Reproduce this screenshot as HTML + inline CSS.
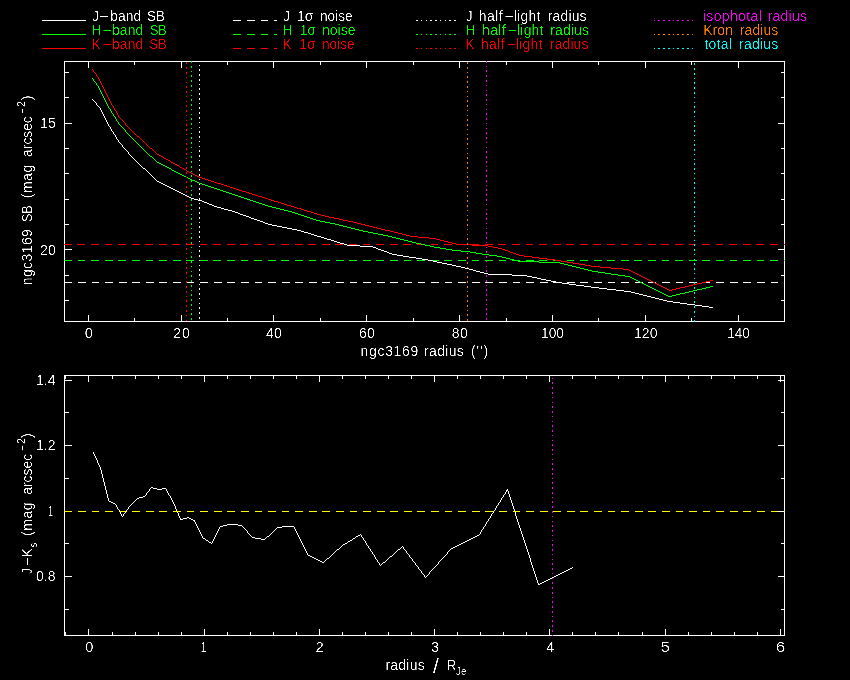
<!DOCTYPE html>
<html lang="en">
<head>
<meta charset="utf-8">
<title>ngc3169 surface brightness profile</title>
<style>
html,body{margin:0;padding:0;background:#000;}
body{width:850px;height:680px;overflow:hidden;}
svg{display:block;font-family:'Liberation Sans', sans-serif;font-size:14px;}
</style>
</head>
<body>
<svg width="850" height="680" viewBox="0 0 850 680">
<rect x="0" y="0" width="850" height="680" fill="#000"/>
<g shape-rendering="crispEdges" stroke-width="1" fill="none">
<path d="M42 20.5h44" stroke="#fff"/>
<path d="M233 20.5h8M247 20.5h8M261 20.5h7M274 20.5h3" stroke="#fff"/>
<path d="M416 20.5h2M421 20.5h1M426 20.5h1M430 20.5h2M435 20.5h2M440 20.5h1M445 20.5h1M449 20.5h2M454 20.5h2" stroke="#fff"/>
<path d="M42 34.5h44" stroke="#0f0"/>
<path d="M233 34.5h8M247 34.5h8M261 34.5h7M274 34.5h3" stroke="#0f0"/>
<path d="M416 34.5h2M421 34.5h1M426 34.5h1M430 34.5h2M435 34.5h2M440 34.5h1M445 34.5h1M449 34.5h2M454 34.5h2" stroke="#0f0"/>
<path d="M42 48.5h44" stroke="#f00"/>
<path d="M233 48.5h8M247 48.5h8M261 48.5h7M274 48.5h3" stroke="#f00"/>
<path d="M416 48.5h2M421 48.5h1M426 48.5h1M430 48.5h2M435 48.5h2M440 48.5h1M445 48.5h1M449 48.5h2M454 48.5h2" stroke="#f00"/>
<path d="M654 20.5h1M658 20.5h2M663 20.5h2M668 20.5h2M673 20.5h1M677 20.5h2M682 20.5h2M687 20.5h2M692 20.5h1" stroke="#f0f"/>
<path d="M654 34.5h1M658 34.5h2M663 34.5h2M668 34.5h2M673 34.5h1M677 34.5h2M682 34.5h2M687 34.5h2M692 34.5h1" stroke="#ff8000"/>
<path d="M654 48.5h1M658 48.5h2M663 48.5h2M668 48.5h2M673 48.5h1M677 48.5h2M682 48.5h2M687 48.5h2M692 48.5h1" stroke="#0ff"/>
<path d="M64.5 61.5h720v260h-720z" stroke="#fff"/>
<path d="M88.5 61v7M88.5 315v7M134.5 61v4M134.5 318v4M181.5 61v7M181.5 315v7M227.5 61v4M227.5 318v4M273.5 61v7M273.5 315v7M320.5 61v4M320.5 318v4M366.5 61v7M366.5 315v7M413.5 61v4M413.5 318v4M459.5 61v7M459.5 315v7M506.5 61v4M506.5 318v4M552.5 61v7M552.5 315v7M598.5 61v4M598.5 318v4M645.5 61v7M645.5 315v7M691.5 61v4M691.5 318v4M738.5 61v7M738.5 315v7M64 72.5h5M781 72.5h4M64 97.5h5M781 97.5h4M64 123.5h8M778 123.5h7M64 148.5h5M781 148.5h4M64 173.5h5M781 173.5h4M64 199.5h5M781 199.5h4M64 224.5h5M781 224.5h4M64 249.5h8M778 249.5h7M64 275.5h5M781 275.5h4M64 300.5h5M781 300.5h4" stroke="#fff"/>
<path d="M64 282.5h8M78 282.5h8M92 282.5h7M105 282.5h8M119 282.5h8M132 282.5h8M146 282.5h8M159 282.5h8M173 282.5h8M187 282.5h7M200 282.5h8M214 282.5h8M227 282.5h8M241 282.5h8M255 282.5h7M268 282.5h8M282 282.5h8M295 282.5h8M309 282.5h8M322 282.5h8M336 282.5h8M350 282.5h7M363 282.5h8M377 282.5h8M390 282.5h8M404 282.5h8M418 282.5h7M431 282.5h8M445 282.5h7M458 282.5h8M472 282.5h8M485 282.5h8M499 282.5h8M513 282.5h7M526 282.5h8M540 282.5h8M553 282.5h8M567 282.5h8M580 282.5h8M594 282.5h8M608 282.5h7M621 282.5h8M635 282.5h8M648 282.5h8M662 282.5h8M676 282.5h7M689 282.5h8M703 282.5h7M716 282.5h8M730 282.5h8M743 282.5h8M757 282.5h8M771 282.5h7M784 282.5h1" stroke="#fff"/>
<path d="M64 260.5h8M78 260.5h7M91 260.5h8M105 260.5h8M118 260.5h8M132 260.5h8M146 260.5h7M159 260.5h8M173 260.5h8M186 260.5h8M200 260.5h8M213 260.5h8M227 260.5h8M241 260.5h7M254 260.5h8M268 260.5h8M281 260.5h8M295 260.5h8M309 260.5h7M322 260.5h8M336 260.5h8M349 260.5h8M363 260.5h8M376 260.5h8M390 260.5h8M404 260.5h7M417 260.5h8M431 260.5h8M444 260.5h8M458 260.5h8M472 260.5h7M485 260.5h8M499 260.5h7M512 260.5h8M526 260.5h8M539 260.5h8M553 260.5h8M567 260.5h7M580 260.5h8M594 260.5h8M607 260.5h8M621 260.5h8M634 260.5h8M648 260.5h8M662 260.5h7M675 260.5h8M689 260.5h8M702 260.5h8M716 260.5h8M730 260.5h7M743 260.5h8M757 260.5h7M770 260.5h8M784 260.5h1" stroke="#0f0"/>
<path d="M64 244.5h8M77 244.5h8M91 244.5h8M105 244.5h7M118 244.5h8M132 244.5h8M145 244.5h8M159 244.5h8M172 244.5h8M186 244.5h8M200 244.5h7M213 244.5h8M227 244.5h8M240 244.5h8M254 244.5h8M268 244.5h7M281 244.5h8M295 244.5h8M308 244.5h8M322 244.5h8M335 244.5h8M349 244.5h8M363 244.5h7M376 244.5h8M390 244.5h8M403 244.5h8M417 244.5h8M431 244.5h7M444 244.5h8M458 244.5h7M471 244.5h8M485 244.5h8M498 244.5h8M512 244.5h8M526 244.5h7M539 244.5h8M553 244.5h8M566 244.5h8M580 244.5h8M593 244.5h8M607 244.5h8M621 244.5h7M634 244.5h8M648 244.5h8M661 244.5h8M675 244.5h8M689 244.5h7M702 244.5h8M716 244.5h7M729 244.5h8M743 244.5h8M756 244.5h8M770 244.5h8M784 244.5h1" stroke="#f00"/>
<path d="M92 99.5h1M93 100.5h1M94 101.5h1M95 102.5h1M96 103.5h1M96 104.5h1M97 105.5h1M98 106.5h1M99 107.5h1M100 108.5h1M100 109.5h1M101 110.5h1M101 111.5h1M102 112.5h1M102 113.5h1M103 114.5h1M103 115.5h1M104 116.5h1M104 117.5h1M105 118.5h1M105 119.5h1M106 120.5h1M106 121.5h1M107 122.5h1M107 123.5h1M108 124.5h1M108 125.5h1M109 126.5h1M110 127.5h1M110 128.5h1M111 129.5h1M111 130.5h1M112 131.5h1M113 132.5h1M113 133.5h1M114 134.5h1M115 135.5h1M115 136.5h1M116 137.5h1M116 138.5h1M117 139.5h1M118 140.5h1M118 141.5h1M119 142.5h1M120 143.5h1M121 144.5h1M122 145.5h1M122 146.5h1M123 147.5h1M124 148.5h1M125 149.5h1M126 150.5h1M127 151.5h1M128 152.5h1M128 153.5h1M129 154.5h1M130 155.5h1M131 156.5h1M132 157.5h1M133 158.5h1M134 159.5h1M135 160.5h1M136 161.5h1M137 162.5h1M138 163.5h1M139 164.5h1M140 165.5h1M141 166.5h1M142 167.5h1M143 168.5h2M145 169.5h1M146 170.5h1M147 171.5h1M148 172.5h1M149 173.5h1M150 174.5h1M151 175.5h1M152 176.5h1M153 177.5h1M154 178.5h1M155 179.5h1M156 180.5h1M157 181.5h2M159 182.5h2M161 183.5h2M163 184.5h2M165 185.5h2M167 186.5h2M169 187.5h2M171 188.5h2M173 189.5h2M175 190.5h2M177 191.5h2M179 192.5h2M181 193.5h2M183 194.5h2M185 195.5h2M187 196.5h2M189 197.5h2M191 198.5h3M194 199.5h4M198 200.5h4M202 201.5h2M204 202.5h3M207 203.5h2M209 204.5h3M212 205.5h2M214 206.5h3M217 207.5h4M221 208.5h3M224 209.5h4M228 210.5h4M232 211.5h3M235 212.5h3M238 213.5h2M240 214.5h3M243 215.5h3M246 216.5h3M249 217.5h2M251 218.5h3M254 219.5h3M257 220.5h3M260 221.5h3M263 222.5h2M265 223.5h3M268 224.5h4M272 225.5h5M277 226.5h5M282 227.5h5M287 228.5h5M292 229.5h5M297 230.5h4M301 231.5h3M304 232.5h4M308 233.5h3M311 234.5h3M314 235.5h3M317 236.5h4M321 237.5h3M324 238.5h3M327 239.5h4M331 240.5h3M334 241.5h3M337 242.5h3M340 243.5h4M344 244.5h3M347 245.5h13M360 246.5h13M373 247.5h3M376 248.5h2M378 249.5h3M381 250.5h3M384 251.5h3M387 252.5h2M389 253.5h3M392 254.5h5M397 255.5h6M403 256.5h6M409 257.5h7M416 258.5h6M422 259.5h6M428 260.5h5M433 261.5h4M437 262.5h5M442 263.5h5M447 264.5h5M452 265.5h4M456 266.5h5M461 267.5h4M465 268.5h4M469 269.5h4M473 270.5h3M476 271.5h4M480 272.5h4M484 273.5h4M488 274.5h24M512 275.5h15M527 276.5h5M532 277.5h5M537 278.5h4M541 279.5h5M546 280.5h5M551 281.5h5M556 282.5h6M562 283.5h7M569 284.5h7M576 285.5h8M584 286.5h7M591 287.5h8M599 288.5h8M607 289.5h9M616 290.5h8M624 291.5h7M631 292.5h4M635 293.5h4M639 294.5h4M643 295.5h4M647 296.5h4M651 297.5h4M655 298.5h4M659 299.5h4M663 300.5h4M667 301.5h6M673 302.5h7M680 303.5h7M687 304.5h8M695 305.5h7M702 306.5h7M709 307.5h4" stroke="#fff"/>
<path d="M92 78.5h1M93 79.5h1M93 80.5h1M94 81.5h1M95 82.5h1M96 83.5h1M96 84.5h1M97 85.5h1M98 86.5h1M98 87.5h1M99 88.5h1M99 89.5h1M100 90.5h1M100 91.5h1M101 92.5h1M101 93.5h1M102 94.5h1M102 95.5h1M103 96.5h1M103 97.5h1M104 98.5h1M104 99.5h1M105 100.5h1M105 101.5h1M106 102.5h1M106 103.5h1M107 104.5h1M107 105.5h1M108 106.5h1M108 107.5h1M109 108.5h1M110 109.5h1M110 110.5h1M111 111.5h1M111 112.5h1M112 113.5h1M113 114.5h1M113 115.5h1M114 116.5h1M115 117.5h1M115 118.5h1M116 119.5h1M116 120.5h1M117 121.5h1M118 122.5h1M118 123.5h1M119 124.5h1M120 125.5h1M121 126.5h1M122 127.5h1M123 128.5h1M124 129.5h1M125 130.5h1M125 131.5h1M126 132.5h1M127 133.5h1M128 134.5h1M129 135.5h1M130 136.5h1M131 137.5h1M132 138.5h1M133 139.5h1M134 140.5h1M135 141.5h1M136 142.5h1M137 143.5h1M138 144.5h1M139 145.5h1M140 146.5h1M141 147.5h1M142 148.5h1M143 149.5h1M144 150.5h1M145 151.5h1M146 152.5h1M147 153.5h1M148 154.5h1M149 155.5h1M150 156.5h2M152 157.5h1M153 158.5h1M154 159.5h1M155 160.5h1M156 161.5h1M157 162.5h2M159 163.5h2M161 164.5h2M163 165.5h2M165 166.5h2M167 167.5h2M169 168.5h2M171 169.5h1M172 170.5h2M174 171.5h2M176 172.5h2M178 173.5h2M180 174.5h2M182 175.5h2M184 176.5h2M186 177.5h2M188 178.5h2M190 179.5h2M192 180.5h3M195 181.5h2M197 182.5h2M199 183.5h3M202 184.5h3M205 185.5h3M208 186.5h3M211 187.5h3M214 188.5h3M217 189.5h3M220 190.5h3M223 191.5h3M226 192.5h3M229 193.5h3M232 194.5h3M235 195.5h3M238 196.5h3M241 197.5h3M244 198.5h3M247 199.5h3M250 200.5h3M253 201.5h3M256 202.5h3M259 203.5h3M262 204.5h3M265 205.5h3M268 206.5h4M272 207.5h4M276 208.5h4M280 209.5h4M284 210.5h4M288 211.5h4M292 212.5h3M295 213.5h3M298 214.5h3M301 215.5h3M304 216.5h3M307 217.5h3M310 218.5h3M313 219.5h3M316 220.5h4M320 221.5h5M325 222.5h5M330 223.5h5M335 224.5h4M339 225.5h4M343 226.5h4M347 227.5h4M351 228.5h4M355 229.5h4M359 230.5h4M363 231.5h5M368 232.5h5M373 233.5h5M378 234.5h5M383 235.5h5M388 236.5h4M392 237.5h4M396 238.5h4M400 239.5h4M404 240.5h4M408 241.5h4M412 242.5h4M416 243.5h5M421 244.5h4M425 245.5h5M430 246.5h4M434 247.5h6M440 248.5h6M446 249.5h6M452 250.5h9M461 251.5h9M470 252.5h6M476 253.5h6M482 254.5h7M489 255.5h8M497 256.5h5M502 257.5h4M506 258.5h4M510 259.5h4M514 260.5h4M518 261.5h21M539 262.5h21M560 263.5h4M564 264.5h4M568 265.5h4M572 266.5h4M576 267.5h4M580 268.5h4M584 269.5h4M588 270.5h4M592 271.5h6M598 272.5h7M605 273.5h6M611 274.5h7M618 275.5h7M625 276.5h5M630 277.5h2M632 278.5h2M634 279.5h2M636 280.5h2M638 281.5h2M640 282.5h2M642 283.5h2M644 284.5h2M646 285.5h2M648 286.5h2M710 286.5h3M650 287.5h2M706 287.5h4M652 288.5h2M702 288.5h4M654 289.5h2M697 289.5h5M656 290.5h2M693 290.5h4M658 291.5h2M689 291.5h4M660 292.5h2M685 292.5h4M662 293.5h2M680 293.5h5M664 294.5h2M676 294.5h4M666 295.5h2M672 295.5h4M668 296.5h4" stroke="#0f0"/>
<path d="M92 69.5h1M93 70.5h1M93 71.5h1M94 72.5h1M95 73.5h1M96 74.5h1M96 75.5h1M97 76.5h1M98 77.5h1M98 78.5h1M99 79.5h1M99 80.5h1M100 81.5h1M100 82.5h1M101 83.5h1M101 84.5h1M102 85.5h1M102 86.5h1M103 87.5h1M103 88.5h1M104 89.5h1M104 90.5h1M105 91.5h1M105 92.5h1M106 93.5h1M106 94.5h1M107 95.5h1M107 96.5h1M108 97.5h1M108 98.5h1M109 99.5h1M109 100.5h1M110 101.5h1M110 102.5h1M111 103.5h1M111 104.5h1M112 105.5h1M113 106.5h1M113 107.5h1M114 108.5h1M114 109.5h1M115 110.5h1M116 111.5h1M116 112.5h1M117 113.5h1M117 114.5h1M118 115.5h1M118 116.5h1M119 117.5h1M120 118.5h1M121 119.5h1M122 120.5h1M123 121.5h1M124 122.5h1M125 123.5h1M125 124.5h1M126 125.5h1M127 126.5h1M128 127.5h1M129 128.5h1M130 129.5h1M131 130.5h1M132 131.5h1M133 132.5h1M134 133.5h1M135 134.5h1M136 135.5h1M137 136.5h2M139 137.5h1M140 138.5h1M141 139.5h1M142 140.5h1M143 141.5h1M144 142.5h1M145 143.5h1M146 144.5h1M147 145.5h1M148 146.5h1M149 147.5h1M150 148.5h2M152 149.5h1M153 150.5h1M154 151.5h1M155 152.5h1M156 153.5h1M157 154.5h2M159 155.5h2M161 156.5h2M163 157.5h1M164 158.5h2M166 159.5h2M168 160.5h2M170 161.5h1M171 162.5h2M173 163.5h2M175 164.5h2M177 165.5h2M179 166.5h1M180 167.5h2M182 168.5h2M184 169.5h2M186 170.5h1M187 171.5h2M189 172.5h2M191 173.5h2M193 174.5h2M195 175.5h2M197 176.5h2M199 177.5h3M202 178.5h3M205 179.5h3M208 180.5h3M211 181.5h3M214 182.5h3M217 183.5h4M221 184.5h3M224 185.5h3M227 186.5h3M230 187.5h3M233 188.5h3M236 189.5h3M239 190.5h3M242 191.5h4M246 192.5h3M249 193.5h3M252 194.5h3M255 195.5h3M258 196.5h4M262 197.5h3M265 198.5h3M268 199.5h3M271 200.5h3M274 201.5h4M278 202.5h3M281 203.5h3M284 204.5h3M287 205.5h4M291 206.5h3M294 207.5h3M297 208.5h4M301 209.5h3M304 210.5h3M307 211.5h4M311 212.5h3M314 213.5h3M317 214.5h4M321 215.5h4M325 216.5h4M329 217.5h5M334 218.5h5M339 219.5h4M343 220.5h5M348 221.5h5M353 222.5h4M357 223.5h4M361 224.5h4M365 225.5h4M369 226.5h4M373 227.5h4M377 228.5h4M381 229.5h4M385 230.5h5M390 231.5h4M394 232.5h4M398 233.5h4M402 234.5h4M406 235.5h4M410 236.5h8M418 237.5h11M429 238.5h7M436 239.5h4M440 240.5h4M444 241.5h4M448 242.5h4M452 243.5h4M456 244.5h16M472 245.5h16M488 246.5h5M493 247.5h5M498 248.5h4M502 249.5h3M505 250.5h3M508 251.5h2M510 252.5h3M513 253.5h3M516 254.5h3M519 255.5h5M524 256.5h8M532 257.5h7M539 258.5h8M547 259.5h8M555 260.5h6M561 261.5h6M567 262.5h6M573 263.5h6M579 264.5h6M585 265.5h6M591 266.5h9M600 267.5h11M611 268.5h12M623 269.5h6M629 270.5h2M631 271.5h2M633 272.5h2M635 273.5h2M637 274.5h2M639 275.5h2M641 276.5h2M643 277.5h2M645 278.5h2M647 279.5h2M649 280.5h2M710 280.5h3M651 281.5h2M706 281.5h4M653 282.5h2M702 282.5h4M655 283.5h2M697 283.5h5M657 284.5h2M693 284.5h4M659 285.5h2M689 285.5h4M661 286.5h2M685 286.5h4M663 287.5h2M680 287.5h5M665 288.5h2M676 288.5h4M667 289.5h2M672 289.5h4M669 290.5h3" stroke="#f00"/>
<path d="M199.5 65v1M199.5 69v2M199.5 74v2M199.5 79v2M199.5 84v1M199.5 88v2M199.5 93v2M199.5 98v2M199.5 103v1M199.5 107v2M199.5 112v2M199.5 117v2M199.5 122v1M199.5 127v1M199.5 131v2M199.5 136v2M199.5 141v1M199.5 146v1M199.5 150v2M199.5 155v2M199.5 160v1M199.5 165v1M199.5 169v2M199.5 174v2M199.5 179v1M199.5 184v1M199.5 188v2M199.5 193v2M199.5 198v2M199.5 203v1M199.5 207v2M199.5 212v2M199.5 217v2M199.5 222v1M199.5 226v2M199.5 231v2M199.5 236v2M199.5 241v1M199.5 246v1M199.5 250v2M199.5 255v2M199.5 260v1M199.5 265v1M199.5 269v2M199.5 274v2M199.5 279v1M199.5 284v1M199.5 288v2M199.5 293v2M199.5 298v1M199.5 303v1M199.5 307v2M199.5 312v2M199.5 317v2" stroke="#fff"/>
<path d="M191.5 61v2M191.5 66v2M191.5 71v1M191.5 75v2M191.5 80v2M191.5 85v2M191.5 90v1M191.5 95v1M191.5 99v2M191.5 104v2M191.5 109v1M191.5 114v1M191.5 118v2M191.5 123v2M191.5 128v1M191.5 133v1M191.5 137v2M191.5 142v2M191.5 147v1M191.5 152v1M191.5 156v2M191.5 161v2M191.5 166v2M191.5 171v1M191.5 175v2M191.5 180v2M191.5 185v2M191.5 190v1M191.5 194v2M191.5 199v2M191.5 204v2M191.5 209v1M191.5 214v1M191.5 218v2M191.5 223v2M191.5 228v1M191.5 233v1M191.5 237v2M191.5 242v2M191.5 247v1M191.5 252v1M191.5 256v2M191.5 261v2M191.5 266v1M191.5 271v1M191.5 275v2M191.5 280v2M191.5 285v2M191.5 290v1M191.5 294v2M191.5 299v2M191.5 304v2M191.5 309v1M191.5 313v2M191.5 318v2" stroke="#0f0"/>
<path d="M186.5 62v2M186.5 67v2M186.5 72v2M186.5 77v1M186.5 82v1M186.5 86v2M186.5 91v2M186.5 96v1M186.5 101v1M186.5 105v2M186.5 110v2M186.5 115v1M186.5 120v1M186.5 124v2M186.5 129v2M186.5 134v1M186.5 139v1M186.5 143v2M186.5 148v2M186.5 153v2M186.5 158v1M186.5 162v2M186.5 167v2M186.5 172v2M186.5 177v1M186.5 181v2M186.5 186v2M186.5 191v2M186.5 196v1M186.5 201v1M186.5 205v2M186.5 210v2M186.5 215v1M186.5 220v1M186.5 224v2M186.5 229v2M186.5 234v1M186.5 239v1M186.5 243v2M186.5 248v2M186.5 253v1M186.5 258v1M186.5 262v2M186.5 267v2M186.5 272v2M186.5 277v1M186.5 281v2M186.5 286v2M186.5 291v2M186.5 296v1M186.5 300v2M186.5 305v2M186.5 310v2M186.5 315v1M186.5 320v1" stroke="#f00"/>
<path d="M467.5 62v2M467.5 67v2M467.5 72v1M467.5 76v2M467.5 81v2M467.5 86v2M467.5 91v1M467.5 96v1M467.5 100v2M467.5 105v2M467.5 110v1M467.5 115v1M467.5 119v2M467.5 124v2M467.5 129v1M467.5 134v1M467.5 138v2M467.5 143v2M467.5 148v1M467.5 153v1M467.5 157v2M467.5 162v2M467.5 167v2M467.5 172v1M467.5 176v2M467.5 181v2M467.5 186v2M467.5 191v1M467.5 195v2M467.5 200v2M467.5 205v2M467.5 210v1M467.5 215v1M467.5 219v2M467.5 224v2M467.5 229v1M467.5 234v1M467.5 238v2M467.5 243v2M467.5 248v1M467.5 253v1M467.5 257v2M467.5 262v2M467.5 267v1M467.5 272v1M467.5 276v2M467.5 281v2M467.5 286v2M467.5 291v1M467.5 295v2M467.5 300v2M467.5 305v2M467.5 310v1M467.5 314v2M467.5 319v2" stroke="#ff8000"/>
<path d="M486.5 61v2M486.5 66v1M486.5 70v2M486.5 75v2M486.5 80v2M486.5 85v1M486.5 90v1M486.5 94v2M486.5 99v2M486.5 104v1M486.5 109v1M486.5 113v2M486.5 118v2M486.5 123v1M486.5 128v1M486.5 132v2M486.5 137v2M486.5 142v1M486.5 147v1M486.5 151v2M486.5 156v2M486.5 161v2M486.5 166v1M486.5 170v2M486.5 175v2M486.5 180v2M486.5 185v1M486.5 189v2M486.5 194v2M486.5 199v2M486.5 204v1M486.5 209v1M486.5 213v2M486.5 218v2M486.5 223v1M486.5 228v1M486.5 232v2M486.5 237v2M486.5 242v1M486.5 247v1M486.5 251v2M486.5 256v2M486.5 261v1M486.5 266v1M486.5 270v2M486.5 275v2M486.5 280v2M486.5 285v1M486.5 289v2M486.5 294v2M486.5 299v2M486.5 304v1M486.5 308v2M486.5 313v2M486.5 318v2" stroke="#f0f"/>
<path d="M694.5 63v2M694.5 68v2M694.5 73v2M694.5 78v1M694.5 82v2M694.5 87v2M694.5 92v2M694.5 97v1M694.5 102v1M694.5 106v2M694.5 111v2M694.5 116v1M694.5 121v1M694.5 125v2M694.5 130v2M694.5 135v1M694.5 140v1M694.5 144v2M694.5 149v2M694.5 154v1M694.5 159v1M694.5 163v2M694.5 168v2M694.5 173v1M694.5 178v1M694.5 182v2M694.5 187v2M694.5 192v2M694.5 197v1M694.5 201v2M694.5 206v2M694.5 211v2M694.5 216v1M694.5 221v1M694.5 225v2M694.5 230v2M694.5 235v1M694.5 240v1M694.5 244v2M694.5 249v2M694.5 254v1M694.5 259v1M694.5 263v2M694.5 268v2M694.5 273v1M694.5 278v1M694.5 282v2M694.5 287v2M694.5 292v2M694.5 297v1M694.5 301v2M694.5 306v2M694.5 311v2M694.5 316v1M694.5 320v2" stroke="#0ff"/>
<path d="M64.5 375.5h720v260h-720z" stroke="#fff"/>
<path d="M65.5 375v4M65.5 632v4M88.5 375v7M88.5 629v7M112.5 375v4M112.5 632v4M135.5 375v4M135.5 632v4M158.5 375v4M158.5 632v4M181.5 375v4M181.5 632v4M204.5 375v7M204.5 629v7M227.5 375v4M227.5 632v4M250.5 375v4M250.5 632v4M273.5 375v4M273.5 632v4M296.5 375v4M296.5 632v4M319.5 375v7M319.5 629v7M342.5 375v4M342.5 632v4M365.5 375v4M365.5 632v4M388.5 375v4M388.5 632v4M411.5 375v4M411.5 632v4M434.5 375v7M434.5 629v7M457.5 375v4M457.5 632v4M480.5 375v4M480.5 632v4M503.5 375v4M503.5 632v4M526.5 375v4M526.5 632v4M549.5 375v7M549.5 629v7M572.5 375v4M572.5 632v4M595.5 375v4M595.5 632v4M618.5 375v4M618.5 632v4M642.5 375v4M642.5 632v4M665.5 375v7M665.5 629v7M688.5 375v4M688.5 632v4M711.5 375v4M711.5 632v4M734.5 375v4M734.5 632v4M757.5 375v4M757.5 632v4M780.5 375v7M780.5 629v7M64 609.5h5M781 609.5h4M64 576.5h8M778 576.5h7M64 543.5h5M781 543.5h4M64 511.5h8M778 511.5h7M64 478.5h5M781 478.5h4M64 445.5h8M778 445.5h7M64 412.5h5M781 412.5h4M64 380.5h8M778 380.5h7" stroke="#fff"/>
<path d="M93.5 452v2M94.5 454v2M95.5 456v2M96.5 458v2M97.5 460v3M98.5 463v2M99.5 465v2M100.5 467v3M101.5 470v4M102.5 474v4M103.5 478v4M104.5 482v4M105.5 486v4M106.5 490v4M107.5 494v4M108.5 498v3M109.5 501v1M110.5 501v1M111.5 502v1M112.5 502v1M113.5 503v1M114.5 503v1M115.5 504v1M116.5 505v2M117.5 507v2M118.5 509v1M119.5 510v2M120.5 512v2M121.5 514v2M122.5 516v1M123.5 514v2M124.5 513v1M125.5 512v1M126.5 510v2M127.5 509v1M128.5 507v2M129.5 506v1M130.5 505v1M131.5 504v1M132.5 503v1M133.5 502v1M134.5 501v1M135.5 500v1M136.5 499v1M137.5 498v1M138.5 498v1M139.5 497v1M140.5 497v1M141.5 497v1M142.5 497v1M143.5 496v1M144.5 496v1M145.5 495v1M146.5 493v2M147.5 492v1M148.5 491v1M149.5 489v2M150.5 488v1M151.5 487v1M152.5 487v1M153.5 488v1M154.5 488v1M155.5 488v1M156.5 488v1M157.5 489v1M158.5 489v1M159.5 489v1M160.5 489v1M161.5 489v1M162.5 488v1M163.5 488v1M164.5 488v1M165.5 488v1M166.5 489v2M167.5 491v2M168.5 493v2M169.5 495v1M170.5 496v2M171.5 498v2M172.5 500v2M173.5 502v2M174.5 504v2M175.5 506v3M176.5 509v2M177.5 511v2M178.5 513v3M179.5 516v2M180.5 518v2M181.5 519v1M182.5 519v1M183.5 518v1M184.5 518v1M185.5 518v1M186.5 518v1M187.5 517v1M188.5 517v1M189.5 518v1M190.5 518v1M191.5 519v1M192.5 519v1M193.5 520v1M194.5 520v2M195.5 522v2M196.5 524v2M197.5 526v2M198.5 528v2M199.5 530v2M200.5 532v2M201.5 534v2M202.5 536v2M203.5 538v1M204.5 538v1M205.5 539v1M206.5 540v1M207.5 540v1M208.5 541v1M209.5 542v1M210.5 542v1M211.5 543v1M212.5 541v2M213.5 539v2M214.5 537v2M215.5 535v2M216.5 533v2M217.5 531v2M218.5 529v2M219.5 527v2M220.5 526v1M221.5 526v1M222.5 526v1M223.5 525v1M224.5 525v1M225.5 525v1M226.5 525v1M227.5 524v1M228.5 524v1M229.5 524v1M230.5 524v1M231.5 524v1M232.5 524v1M233.5 524v1M234.5 524v1M235.5 524v1M236.5 524v1M237.5 524v1M238.5 525v1M239.5 525v1M240.5 525v1M241.5 525v1M242.5 526v1M243.5 527v1M244.5 528v1M245.5 529v1M246.5 530v1M247.5 531v2M248.5 533v1M249.5 534v1M250.5 535v1M251.5 536v1M252.5 537v1M253.5 537v1M254.5 537v1M255.5 538v1M256.5 538v1M257.5 538v1M258.5 538v1M259.5 538v1M260.5 538v1M261.5 539v1M262.5 539v1M263.5 539v1M264.5 539v1M265.5 538v1M266.5 537v1M267.5 536v1M268.5 536v1M269.5 535v1M270.5 534v1M271.5 533v1M272.5 532v1M273.5 531v1M274.5 530v1M275.5 529v1M276.5 528v1M277.5 527v1M278.5 527v1M279.5 527v1M280.5 527v1M281.5 527v1M282.5 526v1M283.5 526v1M284.5 526v1M285.5 526v1M286.5 526v1M287.5 526v1M288.5 526v1M289.5 526v1M290.5 526v1M291.5 526v1M292.5 526v1M293.5 526v1M294.5 527v2M295.5 529v2M296.5 531v2M297.5 533v2M298.5 535v2M299.5 537v2M300.5 539v2M301.5 541v2M302.5 543v2M303.5 545v2M304.5 547v2M305.5 549v2M306.5 551v2M307.5 553v2M308.5 555v1M309.5 555v1M310.5 556v1M311.5 556v1M312.5 557v1M313.5 557v1M314.5 558v1M315.5 558v1M316.5 559v1M317.5 559v1M318.5 560v1M319.5 560v1M320.5 561v1M321.5 561v1M322.5 562v1M323.5 562v1M324.5 561v1M325.5 560v1M326.5 559v1M327.5 558v1M328.5 558v1M329.5 557v1M330.5 556v1M331.5 555v1M332.5 554v1M333.5 553v1M334.5 552v1M335.5 551v1M336.5 550v1M337.5 549v1M338.5 549v1M339.5 548v1M340.5 547v1M341.5 546v1M342.5 545v1M343.5 544v1M344.5 544v1M345.5 543v1M346.5 543v1M347.5 542v1M348.5 541v1M349.5 541v1M350.5 540v1M351.5 540v1M352.5 539v1M353.5 538v1M354.5 538v1M355.5 537v1M356.5 536v1M357.5 536v1M358.5 535v1M359.5 535v1M360.5 534v1M361.5 535v2M362.5 537v1M363.5 538v2M364.5 540v1M365.5 541v2M366.5 543v2M367.5 545v1M368.5 546v2M369.5 548v1M370.5 549v2M371.5 551v1M372.5 552v2M373.5 554v1M374.5 555v2M375.5 557v2M376.5 559v1M377.5 560v2M378.5 562v1M379.5 563v2M380.5 565v1M381.5 564v1M382.5 563v1M383.5 562v1M384.5 562v1M385.5 561v1M386.5 560v1M387.5 559v1M388.5 558v1M389.5 557v1M390.5 556v1M391.5 556v1M392.5 555v1M393.5 554v1M394.5 553v1M395.5 552v1M396.5 551v1M397.5 550v1M398.5 549v1M399.5 549v1M400.5 548v1M401.5 547v1M402.5 546v1M403.5 547v2M404.5 549v1M405.5 550v1M406.5 551v2M407.5 553v1M408.5 554v1M409.5 555v2M410.5 557v1M411.5 558v1M412.5 559v2M413.5 561v1M414.5 562v1M415.5 563v2M416.5 565v1M417.5 566v1M418.5 567v2M419.5 569v1M420.5 570v1M421.5 571v2M422.5 573v1M423.5 574v1M424.5 575v2M425.5 577v1M426.5 576v1M427.5 575v1M428.5 574v1M429.5 572v2M430.5 571v1M431.5 570v1M432.5 569v1M433.5 568v1M434.5 567v1M435.5 566v1M436.5 565v1M437.5 564v1M438.5 562v2M439.5 561v1M440.5 560v1M441.5 559v1M442.5 558v1M443.5 557v1M444.5 556v1M445.5 555v1M446.5 554v1M447.5 552v2M448.5 551v1M449.5 550v1M450.5 549v1M451.5 548v1M452.5 548v1M453.5 547v1M454.5 547v1M455.5 546v1M456.5 546v1M457.5 545v1M458.5 545v1M459.5 544v1M460.5 544v1M461.5 543v1M462.5 543v1M463.5 542v1M464.5 542v1M465.5 541v1M466.5 541v1M467.5 540v1M468.5 540v1M469.5 539v1M470.5 539v1M471.5 538v1M472.5 538v1M473.5 537v1M474.5 537v1M475.5 536v1M476.5 536v1M477.5 535v1M478.5 535v1M479.5 534v1M480.5 532v2M481.5 530v2M482.5 529v1M483.5 527v2M484.5 526v1M485.5 524v2M486.5 522v2M487.5 521v1M488.5 519v2M489.5 518v1M490.5 516v2M491.5 514v2M492.5 513v1M493.5 511v2M494.5 510v1M495.5 508v2M496.5 506v2M497.5 505v1M498.5 503v2M499.5 502v1M500.5 500v2M501.5 498v2M502.5 497v1M503.5 495v2M504.5 494v1M505.5 492v2M506.5 490v2M507.5 489v2M508.5 491v3M509.5 494v3M510.5 497v3M511.5 500v3M512.5 503v3M513.5 506v3M514.5 509v3M515.5 512v4M516.5 516v3M517.5 519v3M518.5 522v3M519.5 525v3M520.5 528v3M521.5 531v3M522.5 534v3M523.5 537v3M524.5 540v3M525.5 543v3M526.5 546v3M527.5 549v3M528.5 552v3M529.5 555v3M530.5 558v4M531.5 562v3M532.5 565v3M533.5 568v3M534.5 571v3M535.5 574v3M536.5 577v3M537.5 580v3M538.5 583v2M539.5 584v1M540.5 583v1M541.5 583v1M542.5 582v1M543.5 582v1M544.5 581v1M545.5 581v1M546.5 580v1M547.5 580v1M548.5 579v1M549.5 579v1M550.5 578v1M551.5 578v1M552.5 577v1M553.5 577v1M554.5 576v1M555.5 576v1M556.5 575v1M557.5 575v1M558.5 574v1M559.5 574v1M560.5 573v1M561.5 573v1M562.5 572v1M563.5 572v1M564.5 571v1M565.5 571v1M566.5 570v1M567.5 570v1M568.5 569v1M569.5 569v1M570.5 568v1M571.5 568v1M572.5 567v1" stroke="#fff"/>
<path d="M64 511.5h8M78 511.5h8M92 511.5h7M105 511.5h8M119 511.5h8M132 511.5h8M146 511.5h8M159 511.5h8M173 511.5h8M187 511.5h7M200 511.5h8M214 511.5h8M227 511.5h8M241 511.5h8M255 511.5h7M268 511.5h8M282 511.5h7M295 511.5h8M309 511.5h8M322 511.5h8M336 511.5h8M350 511.5h7M363 511.5h8M377 511.5h8M390 511.5h8M404 511.5h8M417 511.5h8M431 511.5h8M445 511.5h7M458 511.5h8M472 511.5h8M485 511.5h8M499 511.5h8M513 511.5h7M526 511.5h8M540 511.5h8M553 511.5h8M567 511.5h8M580 511.5h8M594 511.5h8M608 511.5h7M621 511.5h8M635 511.5h8M648 511.5h8M662 511.5h8M676 511.5h7M689 511.5h8M703 511.5h7M716 511.5h8M730 511.5h8M743 511.5h8M757 511.5h8M771 511.5h7M784 511.5h1" stroke="#ff0"/>
<path d="M552.5 378v1M552.5 382v2M552.5 387v2M552.5 392v2M552.5 397v1M552.5 402v1M552.5 406v2M552.5 411v2M552.5 416v1M552.5 421v1M552.5 425v2M552.5 430v2M552.5 435v1M552.5 440v1M552.5 444v2M552.5 449v2M552.5 454v1M552.5 459v1M552.5 463v2M552.5 468v2M552.5 473v2M552.5 478v1M552.5 482v2M552.5 487v2M552.5 492v2M552.5 497v1M552.5 501v2M552.5 506v2M552.5 511v2M552.5 516v1M552.5 521v1M552.5 525v2M552.5 530v2M552.5 535v1M552.5 540v1M552.5 544v2M552.5 549v2M552.5 554v1M552.5 559v1M552.5 563v2M552.5 568v2M552.5 573v1M552.5 578v1M552.5 582v2M552.5 587v2M552.5 592v2M552.5 597v1M552.5 601v2M552.5 606v2M552.5 611v2M552.5 616v1M552.5 620v2M552.5 625v2M552.5 630v2M552.5 635v1" stroke="#f0f"/>
</g>
<defs><filter id="crisp" filterUnits="userSpaceOnUse" x="0" y="0" width="850" height="680" color-interpolation-filters="sRGB"><feComponentTransfer><feFuncA type="linear" slope="3" intercept="-1.300"/></feComponentTransfer></filter></defs>
<g filter="url(#crisp)">
<text fill="#fff"><tspan x="92.00" y="21" textLength="7.00" lengthAdjust="spacingAndGlyphs">J</tspan><tspan x="98.50" y="21" textLength="11.10" lengthAdjust="spacingAndGlyphs">-</tspan><tspan x="110.21" y="21" textLength="30.94" lengthAdjust="spacingAndGlyphs">band</tspan> <tspan x="147.05" y="21" textLength="17.81" lengthAdjust="spacingAndGlyphs">SB</tspan></text>
<text fill="#0f0"><tspan x="92.10" y="35" textLength="9.11" lengthAdjust="spacingAndGlyphs">H</tspan><tspan x="102.00" y="35" textLength="10.51" lengthAdjust="spacingAndGlyphs">-</tspan><tspan x="112.00" y="35" textLength="31.36" lengthAdjust="spacing">band</tspan> <tspan x="149.91" y="35" textLength="16.71" lengthAdjust="spacingAndGlyphs">SB</tspan></text>
<text fill="#f00"><tspan x="92.10" y="49" textLength="8.41" lengthAdjust="spacingAndGlyphs">K</tspan><tspan x="102.00" y="49" textLength="10.28" lengthAdjust="spacingAndGlyphs">-</tspan><tspan x="112.00" y="49" textLength="31.36" lengthAdjust="spacing">band</tspan> <tspan x="149.27" y="49" textLength="17.37" lengthAdjust="spacingAndGlyphs">SB</tspan></text>
<text fill="#fff"><tspan x="283.00" y="21" textLength="7.00" lengthAdjust="spacingAndGlyphs">J</tspan> <tspan x="297.00" y="21" textLength="16.44" lengthAdjust="spacing">1σ</tspan> <tspan x="320.02" y="21" textLength="32.63" lengthAdjust="spacingAndGlyphs">noise</tspan></text>
<text fill="#0f0"><tspan x="283.10" y="35" textLength="9.11" lengthAdjust="spacingAndGlyphs">H</tspan> <tspan x="300.05" y="35" textLength="15.56" lengthAdjust="spacingAndGlyphs">1σ</tspan> <tspan x="322.00" y="35" textLength="33.47" lengthAdjust="spacing">noise</tspan></text>
<text fill="#f00"><tspan x="283.10" y="49" textLength="8.41" lengthAdjust="spacingAndGlyphs">K</tspan> <tspan x="299.20" y="49" textLength="16.44" lengthAdjust="spacing">1σ</tspan> <tspan x="322.02" y="49" textLength="32.63" lengthAdjust="spacingAndGlyphs">noise</tspan></text>
<text fill="#fff"><tspan x="465.90" y="21" textLength="6.53" lengthAdjust="spacingAndGlyphs">J</tspan> <tspan x="478.80" y="21" textLength="23.78" lengthAdjust="spacing">half</tspan><tspan x="504.10" y="21" textLength="10.51" lengthAdjust="spacingAndGlyphs">-</tspan><tspan x="513.80" y="21" textLength="26.49" lengthAdjust="spacing">light</tspan> <tspan x="547.80" y="21" textLength="38.74" lengthAdjust="spacing">radius</tspan></text>
<text fill="#0f0"><tspan x="465.77" y="35" textLength="9.37" lengthAdjust="spacingAndGlyphs">H</tspan> <tspan x="482.00" y="35" textLength="23.78" lengthAdjust="spacing">half</tspan><tspan x="507.30" y="35" textLength="10.51" lengthAdjust="spacingAndGlyphs">-</tspan><tspan x="517.00" y="35" textLength="26.49" lengthAdjust="spacing">light</tspan> <tspan x="550.20" y="35" textLength="38.74" lengthAdjust="spacing">radius</tspan></text>
<text fill="#f00"><tspan x="465.77" y="49" textLength="8.64" lengthAdjust="spacingAndGlyphs">K</tspan> <tspan x="480.90" y="49" textLength="23.78" lengthAdjust="spacing">half</tspan><tspan x="506.20" y="49" textLength="10.51" lengthAdjust="spacingAndGlyphs">-</tspan><tspan x="515.90" y="49" textLength="26.49" lengthAdjust="spacing">light</tspan> <tspan x="549.90" y="49" textLength="38.54" lengthAdjust="spacing">radius</tspan></text>
<text fill="#f0f"><tspan x="702.80" y="21" textLength="58.95" lengthAdjust="spacing">isophotal</tspan> <tspan x="767.70" y="21" textLength="39.24" lengthAdjust="spacing">radius</tspan></text>
<text fill="#ff8000"><tspan x="703.20" y="35" textLength="29.78" lengthAdjust="spacing">Kron</tspan> <tspan x="739.90" y="35" textLength="38.44" lengthAdjust="spacing">radius</tspan></text>
<text fill="#0ff"><tspan x="704.50" y="49" textLength="27.27" lengthAdjust="spacing">total</tspan> <tspan x="739.00" y="49" textLength="39.34" lengthAdjust="spacing">radius</tspan></text>
<text fill="#fff"><tspan x="84.80" y="338" textLength="8.13" lengthAdjust="spacingAndGlyphs">0</tspan></text>
<text fill="#fff"><tspan x="173.30" y="338" textLength="16.58" lengthAdjust="spacing">20</tspan></text>
<text fill="#fff"><tspan x="265.90" y="338" textLength="15.88" lengthAdjust="spacing">40</tspan></text>
<text fill="#fff"><tspan x="359.00" y="338" textLength="15.68" lengthAdjust="spacing">60</tspan></text>
<text fill="#fff"><tspan x="451.80" y="338" textLength="16.08" lengthAdjust="spacing">80</tspan></text>
<text fill="#fff"><tspan x="541.12" y="338" textLength="22.83" lengthAdjust="spacingAndGlyphs">100</tspan></text>
<text fill="#fff"><tspan x="633.90" y="338" textLength="23.56" lengthAdjust="spacing">120</tspan></text>
<text fill="#fff"><tspan x="727.14" y="338" textLength="22.51" lengthAdjust="spacingAndGlyphs">140</tspan></text>
<text fill="#fff"><tspan x="85.30" y="652" textLength="8.13" lengthAdjust="spacingAndGlyphs">0</tspan></text>
<text fill="#fff"><tspan x="200.77" y="652" textLength="5.72" lengthAdjust="spacingAndGlyphs">1</tspan></text>
<text fill="#fff"><tspan x="315.60" y="652" textLength="8.24" lengthAdjust="spacingAndGlyphs">2</tspan></text>
<text fill="#fff"><tspan x="431.00" y="652" textLength="8.13" lengthAdjust="spacingAndGlyphs">3</tspan></text>
<text fill="#fff"><tspan x="546.20" y="652" textLength="7.99" lengthAdjust="spacingAndGlyphs">4</tspan></text>
<text fill="#fff"><tspan x="660.58" y="652" textLength="9.49" lengthAdjust="spacingAndGlyphs">5</tspan></text>
<text fill="#fff"><tspan x="775.78" y="652" textLength="9.49" lengthAdjust="spacingAndGlyphs">6</tspan></text>
<text fill="#fff"><tspan x="39.90" y="128" textLength="15.88" lengthAdjust="spacing">15</tspan></text>
<text fill="#fff"><tspan x="39.90" y="255" textLength="15.88" lengthAdjust="spacing">20</tspan></text>
<text fill="#fff"><tspan x="35.90" y="385" textLength="19.77" lengthAdjust="spacing">1.4</tspan></text>
<text fill="#fff"><tspan x="35.90" y="450" textLength="19.77" lengthAdjust="spacing">1.2</tspan></text>
<text fill="#fff"><tspan x="48.30" y="516" textLength="4.68" lengthAdjust="spacingAndGlyphs">1</tspan></text>
<text fill="#fff"><tspan x="35.90" y="581" textLength="19.77" lengthAdjust="spacing">0.8</tspan></text>
<text fill="#fff"><tspan x="360.60" y="356" textLength="57.72" lengthAdjust="spacing">ngc3169</tspan> <tspan x="424.00" y="356" textLength="39.84" lengthAdjust="spacing">radius</tspan> <tspan x="471.00" y="356" textLength="17.27" lengthAdjust="spacing">(&#x27;&#x27;)</tspan></text>
<text fill="#fff"><tspan x="385.50" y="670" textLength="39.14" lengthAdjust="spacing">radius</tspan> <tspan x="433.00" y="673.2" textLength="5.84" lengthAdjust="spacingAndGlyphs" font-size="21">/</tspan> <tspan x="447.09" y="670" textLength="9.24" lengthAdjust="spacingAndGlyphs">R</tspan><tspan x="455.90" y="675" textLength="10.69" lengthAdjust="spacingAndGlyphs" font-size="10.5">Je</tspan></text>
<text fill="#fff" transform="rotate(-90)"><tspan x="-285.30" y="32" textLength="56.22" lengthAdjust="spacing">ngc3169</tspan> <tspan x="-222.10" y="32" textLength="16.82" lengthAdjust="spacingAndGlyphs">SB</tspan> <tspan x="-198.30" y="32" textLength="33.51" lengthAdjust="spacing">(mag</tspan> <tspan x="-156.90" y="32" textLength="40.63" lengthAdjust="spacingAndGlyphs">arcsec</tspan><tspan x="-113.80" y="25" textLength="5.83" lengthAdjust="spacingAndGlyphs" font-size="10.5">-</tspan><tspan x="-106.90" y="25" textLength="5.96" lengthAdjust="spacingAndGlyphs" font-size="10.5">2</tspan><tspan x="-100.30" y="32" textLength="4.79" lengthAdjust="spacingAndGlyphs">)</tspan></text>
<text fill="#fff" transform="rotate(-90)"><tspan x="-573.90" y="32" textLength="5.48" lengthAdjust="spacingAndGlyphs">J</tspan><tspan x="-565.90" y="32" textLength="9.34" lengthAdjust="spacingAndGlyphs">-</tspan><tspan x="-557.16" y="32" textLength="8.99" lengthAdjust="spacingAndGlyphs">K</tspan><tspan x="-547.60" y="36.8" textLength="4.83" lengthAdjust="spacingAndGlyphs" font-size="10.5">s</tspan> <tspan x="-536.00" y="32" textLength="33.61" lengthAdjust="spacing">(mag</tspan> <tspan x="-494.80" y="32" textLength="40.93" lengthAdjust="spacingAndGlyphs">arcsec</tspan><tspan x="-451.50" y="25" textLength="6.88" lengthAdjust="spacingAndGlyphs" font-size="10.5">-</tspan><tspan x="-443.90" y="25" textLength="5.96" lengthAdjust="spacingAndGlyphs" font-size="10.5">2</tspan><tspan x="-438.00" y="32" textLength="4.79" lengthAdjust="spacingAndGlyphs">)</tspan></text>
</g>
</svg>
</body>
</html>
